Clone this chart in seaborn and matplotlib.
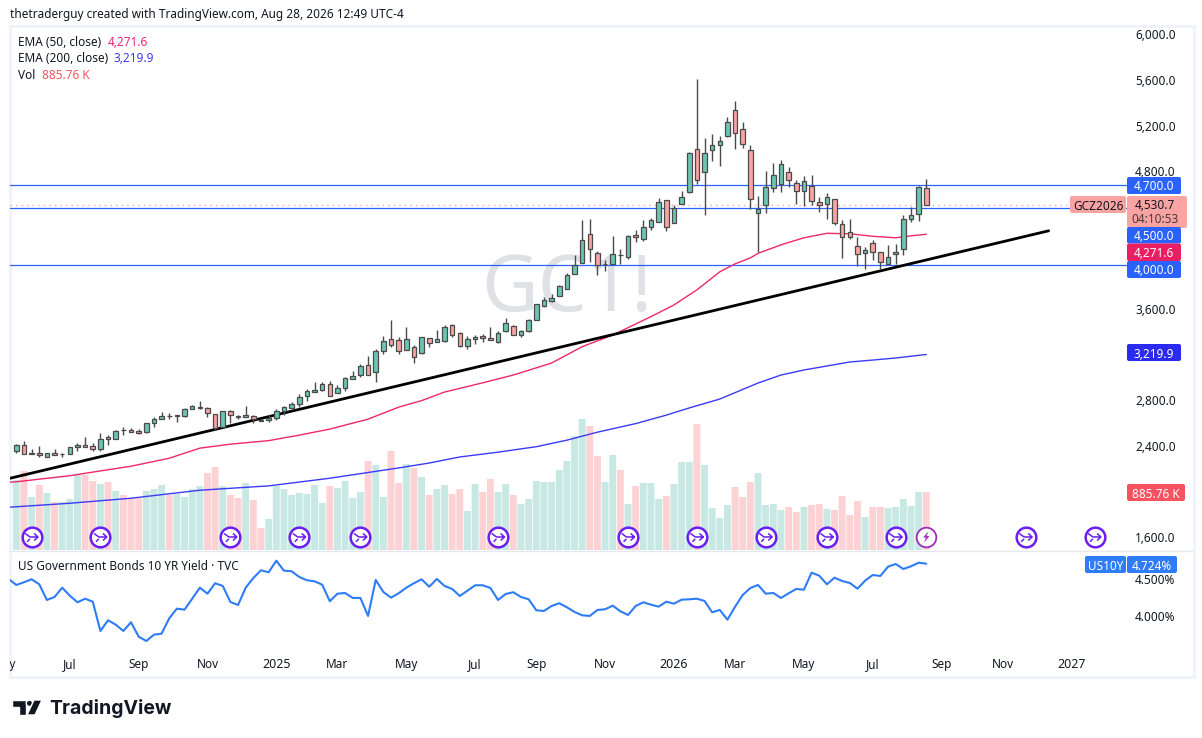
import numpy as np
import matplotlib
matplotlib.use("Agg")
import matplotlib.pyplot as plt
import seaborn as sns
from matplotlib.patches import FancyBboxPatch, Polygon, Circle, Rectangle
from matplotlib.path import Path
from matplotlib.transforms import ScaledTranslation

# weekly gold futures candles
opens = [2376, 2429, 2350, 2354, 2319, 2354, 2345, 2345, 2406, 2424,
         2415, 2397, 2494, 2476, 2560, 2555, 2546, 2538, 2617, 2652,
         2685, 2683, 2678, 2739, 2755, 2748, 2695, 2582, 2722, 2680,
         2669, 2678, 2648, 2643, 2660, 2722, 2748, 2783, 2853, 2888,
         2906, 2958, 2880, 2923, 3002, 3037, 3125, 3064, 3248, 3353,
         3344, 3256, 3283, 3230, 3362, 3327, 3335, 3476, 3405, 3292,
         3353, 3379, 3362, 3327, 3423, 3467, 3388, 3423, 3519, 3642,
         3686, 3730, 3791, 3923, 4019, 4273, 4107, 4008, 4010, 4091,
         4072, 4264, 4229, 4334, 4378, 4571, 4370, 4536, 4641, 5018,
         4817, 5009, 5053, 5132, 5360, 5193, 5009, 4457, 4527, 4676,
         4711, 4817, 4720, 4650, 4694, 4554, 4536, 4580, 4361, 4291,
         4168, 4107, 4194, 4115, 4010, 4098, 4142, 4405, 4448, 4676]
highs = [2435, 2459, 2394, 2418, 2354, 2389, 2354, 2406, 2441, 2494,
         2441, 2529, 2511, 2558, 2582, 2573, 2564, 2622, 2669, 2713,
         2704, 2687, 2748, 2774, 2809, 2757, 2695, 2722, 2733, 2687,
         2766, 2687, 2652, 2687, 2739, 2766, 2801, 2871, 2915, 2976,
         2976, 2985, 2950, 3020, 3072, 3134, 3204, 3265, 3379, 3519,
         3370, 3461, 3300, 3370, 3362, 3432, 3476, 3484, 3414, 3379,
         3388, 3397, 3461, 3423, 3537, 3476, 3432, 3528, 3660, 3721,
         3747, 3826, 3931, 4089, 4396, 4405, 4124, 4045, 4256, 4142,
         4264, 4308, 4396, 4413, 4589, 4571, 4527, 4650, 4992, 5632,
         5115, 5150, 5132, 5299, 5439, 5255, 5053, 4606, 4825, 4895,
         4922, 4860, 4746, 4782, 4790, 4597, 4633, 4580, 4396, 4405,
         4247, 4159, 4221, 4115, 4177, 4185, 4440, 4510, 4694, 4755]
lows = [2356, 2345, 2350, 2319, 2319, 2336, 2319, 2345, 2371, 2406,
        2371, 2376, 2424, 2476, 2517, 2538, 2523, 2529, 2587, 2652,
        2657, 2631, 2669, 2739, 2745, 2669, 2558, 2582, 2617, 2652,
        2669, 2617, 2639, 2628, 2643, 2687, 2739, 2757, 2815, 2888,
        2897, 2853, 2880, 2897, 3002, 3020, 3037, 2981, 3221, 3283,
        3221, 3256, 3142, 3221, 3283, 3327, 3327, 3370, 3283, 3265,
        3309, 3327, 3344, 3318, 3414, 3388, 3370, 3414, 3519, 3633,
        3677, 3730, 3791, 3923, 4019, 4033, 3914, 3949, 4010, 4010,
        4054, 4203, 4212, 4308, 4378, 4296, 4370, 4536, 4633, 4711,
        4440, 4913, 4869, 5123, 5018, 5027, 4492, 4115, 4457, 4641,
        4641, 4685, 4536, 4519, 4527, 4466, 4405, 4352, 4063, 4229,
        3993, 3966, 4045, 3966, 4010, 4010, 4089, 4378, 4387, 4527]
closes = [2424, 2345, 2356, 2336, 2354, 2336, 2349, 2406, 2424, 2406,
          2389, 2476, 2476, 2546, 2556, 2538, 2529, 2617, 2652, 2678,
          2681, 2687, 2739, 2766, 2759, 2704, 2573, 2722, 2687, 2670,
          2687, 2652, 2642, 2660, 2722, 2757, 2783, 2844, 2897, 2906,
          2958, 2853, 2923, 3011, 3029, 3116, 3037, 3248, 3335, 3300,
          3248, 3353, 3195, 3370, 3318, 3353, 3458, 3388, 3292, 3353,
          3370, 3362, 3344, 3405, 3493, 3388, 3423, 3519, 3660, 3695,
          3712, 3817, 3914, 4001, 4221, 4142, 4001, 4012, 4098, 4087,
          4256, 4247, 4334, 4396, 4554, 4334, 4501, 4597, 4983, 4746,
          4983, 5053, 5088, 5255, 5158, 5062, 4580, 4492, 4685, 4790,
          4887, 4746, 4650, 4738, 4562, 4527, 4597, 4370, 4247, 4247,
          4098, 4133, 4115, 4028, 4072, 4115, 4405, 4440, 4685, 4530.7]
volumes = [1069, 1206, 809, 993, 870, 733, 733, 779, 1161, 1145,
           1054, 1008, 1038, 901, 840, 794, 794, 901, 931, 993,
           840, 855, 809, 931, 977, 1176, 1267, 977, 840, 794,
           1023, 764, 336, 473, 977, 931, 840, 870, 855, 993,
           718, 977, 947, 1054, 794, 886, 1359, 1298, 809, 1512,
           1023, 1313, 1252, 1115, 840, 931, 993, 855, 931, 596,
           1008, 886, 1084, 886, 1008, 840, 702, 779, 1054, 1038,
           1038, 1222, 1359, 1741, 2000, 1893, 1435, 1038, 1451, 1222,
           702, 977, 1023, 1023, 779, 825, 1008, 1344, 1344, 1924,
           1298, 641, 489, 687, 962, 809, 1038, 1176, 687, 702,
           611, 657, 580, 657, 687, 702, 626, 611, 825, 534,
           748, 504, 657, 657, 641, 657, 779, 672, 886, 885.76]

ema50_weeks = [-1, 0, 7, 11, 15, 20, 24, 28, 33, 37, 41, 46, 50, 53, 56, 61, 65, 70, 74,
               78, 83, 86, 89, 92, 94, 96, 97, 100, 103, 106, 109, 112, 115, 117, 119]
ema50 = [2102, 2106, 2159, 2201, 2242, 2312, 2400, 2435, 2466, 2514, 2567, 2654, 2759, 2816, 2891,
         2972, 3040, 3145, 3288, 3390, 3551, 3653, 3785, 3943, 4013, 4065, 4105, 4179, 4241, 4280,
         4276, 4254, 4241, 4258, 4271.6]
ema200_weeks = [-1, 7, 15, 24, 33, 41, 50, 54, 58, 63, 68, 72, 76, 81, 85, 88, 92, 97, 100, 103,
                106, 109, 112, 115, 119]
ema200 = [1883, 1918, 1962, 2032, 2070, 2137, 2227, 2270, 2323, 2365, 2413, 2470, 2540, 2615, 2689,
          2752, 2830, 2970, 3040, 3084, 3119, 3154, 3171, 3189, 3219.9]

trend_weeks = [-0.8, 135]
trend_prices = [2137, 4302]
level_lines = [4700, 4500, 4000]

yield_vals = [4.52, 4.44, 4.476, 4.516, 4.449, 4.24, 4.28, 4.404, 4.297, 4.209, 4.257,
              4.217, 3.827, 3.969, 3.911, 3.827, 3.943, 3.751, 3.693, 3.777, 3.791,
              3.996, 4.124, 4.111, 4.257, 4.404, 4.324, 4.463, 4.427, 4.213, 4.173,
              4.404, 4.533, 4.636, 4.609, 4.764, 4.631, 4.623, 4.547, 4.503, 4.489,
              4.444, 4.223, 4.324, 4.333, 4.267, 4.267, 4.027, 4.507, 4.347, 4.271,
              4.329, 4.404, 4.463, 4.516, 4.417, 4.52, 4.427, 4.387, 4.293, 4.364,
              4.436, 4.436, 4.4, 4.24, 4.32, 4.343, 4.28, 4.249, 4.103, 4.093,
              4.16, 4.196, 4.143, 4.08, 4.036, 4.027, 4.107, 4.116, 4.164, 4.089,
              4.04, 4.16, 4.209, 4.177, 4.151, 4.217, 4.191, 4.244, 4.249, 4.257,
              4.227, 4.076, 4.107, 3.977, 4.151, 4.307, 4.4, 4.44, 4.324, 4.333,
              4.267, 4.329, 4.387, 4.377, 4.604, 4.564, 4.449, 4.537, 4.493, 4.467,
              4.391, 4.497, 4.573, 4.56, 4.684, 4.72, 4.653, 4.689, 4.737, 4.724]

event_weeks = [2, 11, 28, 37, 45, 63, 80, 89, 98, 106, 115, 132, 141]
earnings_week = 119
event_price = 1623

price_ticks = [6000, 5600, 5200, 4800, 3600, 2800, 2400, 1600]
yield_ticks = [4.5, 4.0]
date_weeks = [-1.6, 7, 16, 25, 34, 42, 51, 60, 68, 77, 86, 94, 103, 112, 121, 129, 138]
date_labels = ["May", "Jul", "Sep", "Nov", "2025", "Mar", "May", "Jul", "Sep", "Nov",
               "2026", "Mar", "May", "Jul", "Sep", "Nov", "2027"]

UP = "#6cc5b2"
DOWN = "#f9a3a3"
BLUE = "#2962ff"
W, H = 1202, 738
FS = 8.5


def pane(x0, y0, x1, y1):
    ax = fig.add_axes([x0 / W, 1 - y1 / H, (x1 - x0) / W, (y1 - y0) / H])
    ax.patch.set_visible(False)
    ax.set_xlim(-0.824, 145.25)
    return ax


def lift_labels(ax, px):
    # axis labels sit a little above their real level in the original
    for lab in ax.get_yticklabels():
        lab.set_transform(lab.get_transform() + ScaledTranslation(0, px / 100, fig.dpi_scale_trans))


def tag(x0, y0, x1, y1, color, text=None, tc="white"):
    r = 2
    box = FancyBboxPatch((x0 + r, y0 + r), x1 - x0 - 2 * r, y1 - y0 - 2 * r,
                         boxstyle=f"round,pad={r},rounding_size={r}", fc=color, ec="none")
    over.add_patch(box)
    if text:
        over.text((x0 + x1) / 2, (y0 + y1) / 2, text, color=tc, ha="center", va="center_baseline",
                  fontsize=FS, fontweight="medium")


sns.set_theme(style="white")
plt.rcParams["font.family"] = ["Noto Sans", "DejaVu Sans"]

fig = plt.figure(figsize=(W / 100, H / 100), dpi=100, facecolor="white")

back = fig.add_axes([0, 0, 1, 1], zorder=0)
back.set_xlim(0, W)
back.set_ylim(H, 0)
back.axis("off")
back.add_patch(Rectangle((9.5, 25.5), 1184, 651.5, fc="none", ec="#f0f3fa", lw=2))
back.plot([10, 1193], [550.5, 550.5], color="#e4e7ee", lw=1)
back.text(567, 291, "GC1!", color="#dfe1e4", fontsize=56, fontweight="medium", ha="center", va="center")

weeks = np.arange(len(opens))
o = np.array(opens)
c = np.array(closes)
direction = np.where(c >= o, "up", "down")

# volume sits on its own scale under the candles
vol_ax = pane(10, 26, 1127, 550)
vol_ax.set_zorder(1)
sns.barplot(x=weeks, y=volumes, hue=direction, palette={"up": "#c8e8e4", "down": "#fcd2d4"},
            native_scale=True, dodge=False, width=0.9, saturation=1, linewidth=0,
            errorbar=None, legend=False, ax=vol_ax)
for bar in vol_ax.patches:
    bar.set_snap(False)
vol_ax.set_xlim(-0.824, 145.25)
vol_ax.set_ylim(0, 8000)
vol_ax.axis("off")

ax = pane(10, 26, 1127, 550)
ax.set_zorder(2)
ax.set_ylim(1509, 6094)

for level in level_lines:
    ax.axhline(level, color=BLUE, lw=0.9, zorder=1)
ax.axhline(closes[-1], color=DOWN, lw=1, ls=(0, (1, 3)), zorder=1)

sns.lineplot(x=ema50_weeks, y=ema50, color="#f0286a", lw=1, ax=ax, zorder=2)
sns.lineplot(x=ema200_weeks, y=ema200, color="#3b3bf5", lw=1, ax=ax, zorder=2)
sns.lineplot(x=trend_weeks, y=trend_prices, color="black", lw=2, ax=ax, zorder=3)

colors = np.where(c >= o, UP, DOWN)
ax.vlines(weeks, lows, highs, color="#4a4a4a", lw=1, zorder=4)
ax.bar(weeks, np.abs(c - o), bottom=np.minimum(o, c), width=0.6, color=colors,
       edgecolor="#4a4a4a", linewidth=0.9, zorder=5)

arrow_glyph = Path([(-1, 0.55), (-0.25, 0), (1, 0), (0.4, 0.55), (1, 0), (0.4, -0.55),
                    (-0.7, -0.75), (-0.25, -0.3)],
                   [Path.MOVETO, Path.LINETO, Path.LINETO, Path.MOVETO, Path.LINETO, Path.LINETO,
                    Path.MOVETO, Path.LINETO])
bolt_glyph = Path([(0.4, 1), (-0.55, -0.1), (-0.05, -0.1), (-0.4, -1), (0.55, 0.15), (0.05, 0.15), (0.4, 1)])
ev_y = [event_price] * len(event_weeks)
ax.scatter(event_weeks, ev_y, s=200, fc="white", ec="#6a1ef0", lw=1.8, zorder=6, clip_on=False)
ax.scatter(event_weeks, ev_y, s=85, marker=arrow_glyph, fc="none", ec="#6a1ef0", lw=1.1, zorder=7)
ax.scatter([earnings_week], [event_price], s=200, fc="white", ec="#a02cb8", lw=1.3, zorder=6)
ax.scatter([earnings_week], [event_price], s=70, marker=bolt_glyph, fc="#a02cb8", ec="none", zorder=7)

ax.set_xticks([])
ax.set_yticks(price_ticks, [f"{t:,.1f}" for t in price_ticks])
ax.yaxis.tick_right()
ax.tick_params(axis="y", length=0, pad=5.8, labelsize=FS, labelcolor="#131722")
lift_labels(ax, 2.5)
sns.despine(ax=ax, left=True, right=True, top=True, bottom=True)

# bond yield pane
ax2 = pane(10, 551, 1127, 650)
ax2.set_zorder(2)
ax2.set_ylim(3.573, 4.893)
sns.lineplot(x=np.arange(-1, len(yield_vals) - 1), y=yield_vals, color="#2e7cf6", lw=1.5, ax=ax2)
ax2.set_xticks([])
ax2.set_yticks(yield_ticks, [f"{t:.3f}%" for t in yield_ticks])
ax2.yaxis.tick_right()
ax2.tick_params(axis="y", length=0, pad=5.8, labelsize=FS, labelcolor="#131722")
lift_labels(ax2, 1.5)
sns.despine(ax=ax2, left=True, right=True, top=True, bottom=True)

# month labels, the first one is cut off by the pane edge
date_ax = pane(10, 651, 1127, 676)
date_ax.set_ylim(0, 1)
date_ax.axis("off")
for wk, lab in zip(date_weeks, date_labels):
    bold = lab.isdigit()
    date_ax.text(wk, 0.46, lab, ha="center", va="center", clip_on=True, color="#131722",
                 fontsize=FS + (0.4 if bold else 0), fontweight="bold" if bold else "normal")

over = fig.add_axes([0, 0, 1, 1], zorder=5)
over.set_xlim(0, W)
over.set_ylim(H, 0)
over.axis("off")

over.text(10, 14.5, "thetraderguy created with TradingView.com, Aug 28, 2026 12:49 UTC-4", fontsize=FS,
          color="#131722", va="center")
over.text(18, 42, "EMA (50, close)", fontsize=FS, color="#131722", va="center")
over.text(107.5, 42, f"{ema50[-1]:,.1f}", fontsize=FS, color="#f0286a", va="center")
over.text(18, 59, "EMA (200, close)", fontsize=FS, color="#131722", va="center")
over.text(114, 59, f"{ema200[-1]:,.1f}", fontsize=FS, color="#3b3bf5", va="center")
over.text(18, 75.5, "Vol", fontsize=FS, color="#131722", va="center")
over.text(41.5, 75.5, f"{volumes[-1]:.2f} K", fontsize=FS, color="#f7525f", va="center")
over.text(18, 566, "US Government Bonds 10 YR Yield · TVC", fontsize=FS, color="#131722", va="center")

tag(1127, 177, 1181, 194, BLUE, "4,700.0")
tag(1070, 196, 1126, 213, DOWN, "GCZ2026", "#131722")
tag(1127, 196, 1187, 228, DOWN)
over.text(1155, 204, f"{closes[-1]:,.1f}", fontsize=FS, color="#131722", ha="center", va="center_baseline")
over.text(1155, 218, "04:10:53", fontsize=FS, color="#4a3a3a", ha="center", va="center_baseline")
tag(1127, 227, 1181, 243.5, BLUE, "4,500.0")
tag(1127, 243.5, 1181, 261, "#e91e63", f"{ema50[-1]:,.1f}")
tag(1127, 261, 1181, 278, BLUE, "4,000.0")
tag(1127, 344, 1181, 361, "#2a2af0", f"{ema200[-1]:,.1f}")
tag(1127, 484, 1185, 501, "#f7525f", "885.76 K")
tag(1085, 556, 1126, 573, "#2e7cf6", "US10Y")
tag(1127, 556, 1177, 573, "#2e7cf6", f"{yield_vals[-1]:.3f}%")

# TradingView logo in the footer
over.add_patch(Polygon([(12, 700), (26, 700), (26, 715), (19, 715), (19, 707), (12, 707)], fc="#131722"))
over.add_patch(Circle((29.5, 703.3), 3.2, fc="#131722"))
over.add_patch(Polygon([(34, 700), (42, 700), (35, 715), (27, 715)], fc="#131722"))
over.text(49, 708, "TradingView", fontsize=14, fontweight="bold", color="#131722", va="center",
          family="Inter")

fig.savefig("out.png", dpi=100)
